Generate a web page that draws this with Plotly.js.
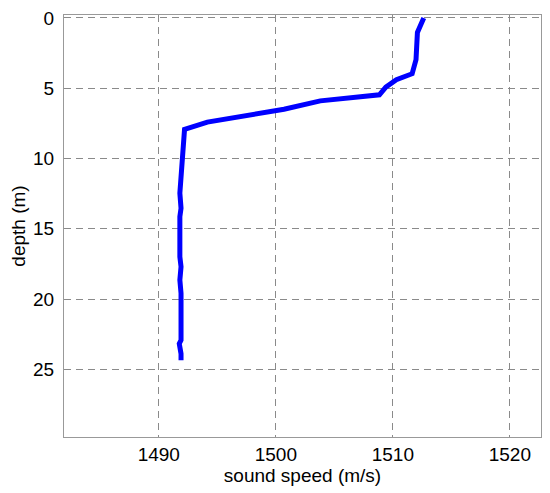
<!DOCTYPE html>
<html>
<head>
<meta charset="utf-8">
<script src="https://cdn.plot.ly/plotly-3.0.1.min.js"></script>
<style>html,body{margin:0;padding:0;background:#fff;}#chart{width:550px;height:493px;}</style>
</head>
<body>
<div id="chart"></div>
<script>
const soundSpeed = [1512.64, 1512.1, 1511.98, 1511.65, 1510.3, 1509.4, 1508.85, 1503.8, 1500.7, 1494.15, 1492.2, 1491.98, 1491.84, 1491.8, 1491.9, 1491.8, 1491.8, 1491.9, 1491.8, 1491.9, 1491.9, 1491.75, 1491.9, 1491.9];
const depth =      [0.0,     1.03,   2.97,    3.97,    4.4,     4.92,    5.47,    5.9,    6.5,    7.41,    7.93,   10.57,   11.5,    12.47,   13.54,   14.14,   17.0,    17.7,    18.65,   19.6,    22.93,   23.17,   23.9,    24.36];
const xTicks = [1490, 1500, 1510, 1520];
const yTicks = [0, 5, 10, 15, 20, 25];

const font = {family: 'Liberation Sans, Arial, sans-serif', size: 19, color: '#000'};

Plotly.newPlot('chart', [{
  x: soundSpeed, y: depth, type: 'scatter', mode: 'lines',
  line: {color: '#0000ff', width: 5},
  hoverinfo: 'skip'
}], {
  width: 550, height: 493,
  margin: {l: 64.3, r: 9, t: 15.3, b: 56.3},
  paper_bgcolor: '#fff', plot_bgcolor: '#fff',
  showlegend: false,
  font: font,
  xaxis: {
    range: [1481.9, 1522.66],
    tickvals: xTicks, ticktext: xTicks.map(String),
    showgrid: true, gridcolor: '#8a8a8a', griddash: '7px,5px', gridwidth: 1,
    showline: true, linecolor: '#999', linewidth: 1, mirror: true,
    zeroline: false, ticks: '', ticklabelstandoff: 0,
    tickfont: font,
    title: {text: 'sound speed (m/s)', font: font, standoff: 0}
  },
  yaxis: {
    range: [29.82, -0.21],
    tickvals: yTicks, ticktext: yTicks.map(String),
    showgrid: true, gridcolor: '#8a8a8a', griddash: '7px,5px', gridwidth: 1,
    showline: true, linecolor: '#999', linewidth: 1, mirror: true,
    zeroline: false, ticks: '', ticklabelstandoff: 5,
    tickfont: font,
    title: {text: 'depth (m)', font: font, standoff: 2}
  }
}, {staticPlot: true, displayModeBar: false});
</script>
</body>
</html>
